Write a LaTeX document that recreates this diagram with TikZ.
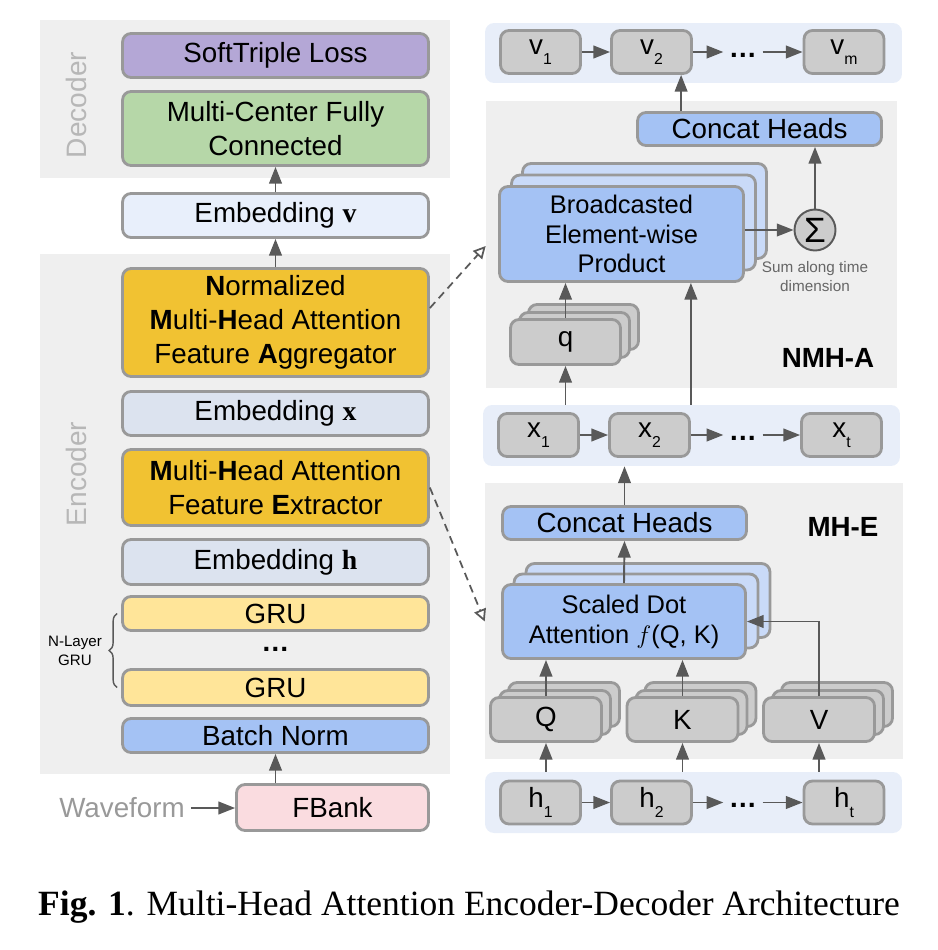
\documentclass[tikz,border=0pt]{standalone}
\usepackage{fontspec}
\setmainfont{Liberation Sans}
\newfontfamily\legende{Liberation Serif}
\usetikzlibrary{shapes,arrows.meta,decorations.pathreplacing}

\definecolor{fondgris}{HTML}{EFEFEF}
\definecolor{fondbleu}{HTML}{E8EEF9}
\definecolor{bord}{HTML}{999999}
\definecolor{fleche}{HTML}{595959}
\definecolor{mauve}{HTML}{B4A7D6}
\definecolor{vert}{HTML}{B6D7A8}
\definecolor{bleupale}{HTML}{E8EFFB}
\definecolor{ocre}{HTML}{F1C232}
\definecolor{grisbleu}{HTML}{DCE3EF}
\definecolor{jaune}{HTML}{FFE599}
\definecolor{bleu}{HTML}{A4C2F4}
\definecolor{bleuclair}{HTML}{C9DAF8}
\definecolor{rose}{HTML}{FADCE0}
\definecolor{grisb}{HTML}{CCCCCC}
\definecolor{grisclair}{HTML}{B7B7B7}
\definecolor{grisfonce}{HTML}{666666}

\newcommand{\ind}[1]{\raisebox{-5.7pt}{\fontsize{9}{9}\selectfont #1}}
\newcommand{\vect}[1]{{\legende\bfseries #1}}

\begin{document}
\begin{tikzpicture}[x=0.02cm,y=-0.02cm]
 % styles des fonds
  \tikzstyle{fond}=[rectangle,inner sep=0pt,fill=fondgris]
  \tikzstyle{rangee}=[rectangle,inner sep=0pt,fill=fondbleu,rounded corners=0.18cm]
  \tikzstyle{titre}=[text=grisclair,rotate=90,font=\fontsize{16}{16}\selectfont]
  \tikzstyle{nom}=[font=\fontsize{15.8}{16}\selectfont\bfseries]
 % styles des boites
  \tikzstyle{boite}=[rectangle,draw=bord,line width=1.6pt,rounded corners=0.17cm,inner sep=0pt,align=center,font=\fontsize{15.8}{19.5}\selectfont]
  \tikzstyle{couche}=[boite,minimum width=6.12cm,minimum height=0.88cm]
  \tikzstyle{pas}=[boite,fill=grisb,minimum width=1.6cm,minimum height=0.86cm]
  \tikzstyle{tete}=[boite,fill=grisb,minimum width=2.22cm,minimum height=0.88cm]
  \tikzstyle{bloc}=[boite,fill=bleu,minimum width=4.88cm,font=\fontsize{14.5}{17}\selectfont]
  \tikzstyle{copie}=[boite,fill=bleuclair,minimum width=4.88cm]
  \tikzstyle{points}=[inner sep=3pt,font=\fontsize{16}{16}\selectfont\bfseries]
 % styles des fleches
  \tikzstyle{suite}=[-{Triangle[length=9.5pt,width=7.2pt]},draw=fleche,line width=1.1pt]
  \tikzstyle{renvoi}=[-{Triangle[open,length=7pt,width=7pt]},draw=fleche,line width=1pt,dash pattern=on 4.5pt off 3pt]
  \useasboundingbox (0,0) rectangle (937,950);
 % fonds
  \node[fond,minimum width=8.2cm,minimum height=3.16cm] (decbg) at (245,99) {};
  \node[fond,minimum width=8.2cm,minimum height=10.4cm] (encbg) at (245,514) {};
  \node[titre] (declab) at (76,105) {Decoder};
  \node[titre] (enclab) at (76,474) {Encoder};
  \node[rangee,minimum width=8.34cm,minimum height=1.2cm] (vrang) at (693.5,53) {};
  \node[fond,minimum width=8.22cm,minimum height=5.74cm] (nmhbg) at (691.5,244.5) {};
  \node[rangee,minimum width=8.34cm,minimum height=1.22cm] (xrang) at (691.5,435.5) {};
  \node[fond,minimum width=8.36cm,minimum height=5.52cm] (mhebg) at (694,621) {};
  \node[rangee,minimum width=8.34cm,minimum height=1.22cm] (hrang) at (693.5,802.5) {};
 % colonne de gauche
  \node[couche,fill=mauve] (perte) at (275.5,55.5) {SoftTriple Loss};
  \node[couche,fill=vert,minimum height=1.48cm] (mcfc) at (275.5,128.5) {Multi-Center Fully\\Connected};
  \node[couche,fill=bleupale] (embv) at (275.5,215.5) {Embedding \vect{v}};
  \node[couche,fill=ocre,minimum height=2.16cm] (nmha) at (275.5,322.5) {\textbf{N}ormalized\\\textbf{M}ulti-\textbf{H}ead Attention\\Feature \textbf{A}ggregator};
  \node[couche,fill=grisbleu] (embx) at (275.5,413.5) {Embedding \vect{x}};
  \node[couche,fill=ocre,minimum height=1.52cm] (mhfe) at (275.5,487.5) {\textbf{M}ulti-\textbf{H}ead Attention\\Feature \textbf{E}xtractor};
  \node[couche,fill=grisbleu,minimum height=0.9cm] (embh) at (275.5,562) {Embedding \vect{h}};
  \node[couche,fill=jaune,minimum height=0.68cm] (gru1) at (275.5,613.5) {GRU};
  \node[points] (pts) at (275.5,649) {…};
  \node[couche,fill=jaune,minimum height=0.72cm] (gru2) at (275.5,687.5) {GRU};
  \node[couche,fill=bleu,minimum height=0.68cm] (bn) at (275.5,735.5) {Batch Norm};
  \node[boite,fill=rose,minimum width=3.84cm,minimum height=0.92cm] (fbank) at (332.5,807.5) {FBank};
  \node[text=bord,font=\fontsize{15.8}{16}\selectfont] (onde) at (122,808) {Waveform};
  \node[align=center,font=\fontsize{8.6}{10.6}\selectfont] (ncouches) at (75,651) {N-Layer\\GRU};
 % rangee v
  \node[pas] (v1) at (540.5,52) {v\ind{1}};
  \node[pas] (v2) at (651.5,52) {v\ind{2}};
  \node[points] (vpts) at (743,55) {…};
  \node[pas] (vm) at (844,52) {v\ind{m}};
 % agregateur
  \node[bloc,minimum height=0.66cm,font=\fontsize{15.8}{16}\selectfont] (cat2) at (759.5,129) {Concat Heads};
  \node[copie,minimum height=1.9cm] (bepb) at (644.5,211) {};
  \node[copie,minimum height=1.9cm] (bepa) at (633.5,222.5) {};
  \node[bloc,minimum height=1.9cm] (bep) at (621.5,234) {Broadcasted\\Element-wise\\Product};
  \node[circle,draw=fleche,fill=grisb,line width=1.1pt,minimum size=0.82cm,inner sep=0pt,font=\fontsize{20}{20}\selectfont] (somme) at (815,230) {Σ};
  \node[text=grisfonce,align=center,font=\fontsize{8.7}{10.8}\selectfont] (stxt) at (815,277) {Sum along time\\dimension};
  \node[tete,minimum width=2.2cm,minimum height=0.9cm] (qb) at (583.5,327) {};
  \node[tete,minimum width=2.2cm,minimum height=0.9cm] (qa) at (574.5,335) {};
  \node[tete,minimum width=2.2cm,minimum height=0.9cm] (q) at (565.5,342) {q};
  \node[nom] (nmhlab) at (828,358) {NMH-A};
 % rangee x
  \node[pas] (x1) at (538.5,435) {x\ind{1}};
  \node[pas] (x2) at (649.5,435) {x\ind{2}};
  \node[points] (xpts) at (743,438) {…};
  \node[pas] (xt) at (841.5,435) {x\ind{t}};
 % extracteur
  \node[bloc,minimum height=0.66cm,font=\fontsize{15.8}{16}\selectfont] (cat1) at (624.5,523) {Concat Heads};
  \node[copie,minimum height=1.48cm] (sdab) at (648,600.5) {};
  \node[copie,minimum height=1.48cm] (sdaa) at (636,611) {};
  \node[bloc,minimum width=4.86cm,minimum height=1.48cm] (sda) at (624,621.5) {Scaled Dot\\Attention $f$(Q, K)};
  \node[tete] (Qb) at (564,704.5) {};
  \node[tete] (Qa) at (555,712.5) {};
  \node[tete] (Q) at (546,719.5) {Q};
  \node[tete] (Kb) at (700.5,704.5) {};
  \node[tete] (Ka) at (691.5,712.5) {};
  \node[tete] (K) at (682.5,719.5) {K};
  \node[tete] (Vb) at (837,704.5) {};
  \node[tete] (Va) at (828,712.5) {};
  \node[tete] (V) at (819,719.5) {V};
  \node[nom] (mhelab) at (843,527) {MH-E};
 % rangee h
  \node[pas] (h1) at (540.5,802.5) {h\ind{1}};
  \node[pas] (h2) at (651.5,802.5) {h\ind{2}};
  \node[points] (hpts) at (743,805.5) {…};
  \node[pas] (ht) at (844,802.5) {h\ind{t}};
 % legende
  \node[anchor=base,font=\legende\fontsize{20.2}{20.2}\selectfont] (fig) at (469,915) {\textbf{Fig. 1}. Multi-Head Attention Encoder-Decoder Architecture};
 % fleches de gauche
  \draw[suite] (embv) -- (mcfc);
  \draw[suite] (nmha) -- (embv);
  \draw[suite] (bn.south |- fbank.north) -- (bn);
  \draw[suite] (onde) -- (onde -| fbank.west);
  \draw[decorate,decoration={brace,amplitude=0.16cm},draw=fleche,line width=0.8pt] ([xshift=-0.08cm]gru2.west) -- ([xshift=-0.08cm]gru1.west);
 % fleches des rangees
  \draw[suite] (v1) -- (v2);
  \draw[suite] (v2) -- (v2 -| vpts.west);
  \draw[suite] (vpts.east |- vm) -- (vm);
  \draw[suite] (x1) -- (x2);
  \draw[suite] (x2) -- (x2 -| xpts.west);
  \draw[suite] (xpts.east |- xt) -- (xt);
  \draw[suite] (h1) -- (h2);
  \draw[suite] (h2) -- (h2 -| hpts.west);
  \draw[suite] (hpts.east |- ht) -- (ht);
 % fleches de droite
  \coordinate (cathaut) at ([xshift=0.9cm]cat2.north west);
  \draw[suite] (cathaut) -- (cathaut |- v2.south);
  \draw[suite] (somme) -- (somme |- cat2.south);
  \draw[suite] (bep.east |- somme) -- (somme);
  \draw[suite] (q.north) -- (q.north |- bep.south);
  \draw[suite] (q.south |- xrang.north) -- (q.south);
  \draw[suite] (x2.east |- xrang.north) -- (x2.east |- bep.south);
  \draw[suite] (cat1.north) -- (cat1.north |- xrang.south);
  \draw[suite] (sda.north) -- (cat1.south);
  \draw[suite] (Q.north) -- (Q.north |- sda.south);
  \draw[suite] (K.north) -- (K.north |- sda.south);
  \draw[suite] (V.north) |- (sda.east);
  \draw[suite] (Q.south |- hrang.north) -- (Q.south);
  \draw[suite] (K.south |- hrang.north) -- (K.south);
  \draw[suite] (V.south |- hrang.north) -- (V.south);
 % renvois
  \coordinate (d1) at ([yshift=-0.24cm]bep.west);
  \draw[renvoi] ([yshift=0.29cm]nmha.east) -- (d1 -| nmhbg.west);
  \draw[renvoi] (mhfe.east) -- (sda.west -| mhebg.west);
\end{tikzpicture}
\end{document}
